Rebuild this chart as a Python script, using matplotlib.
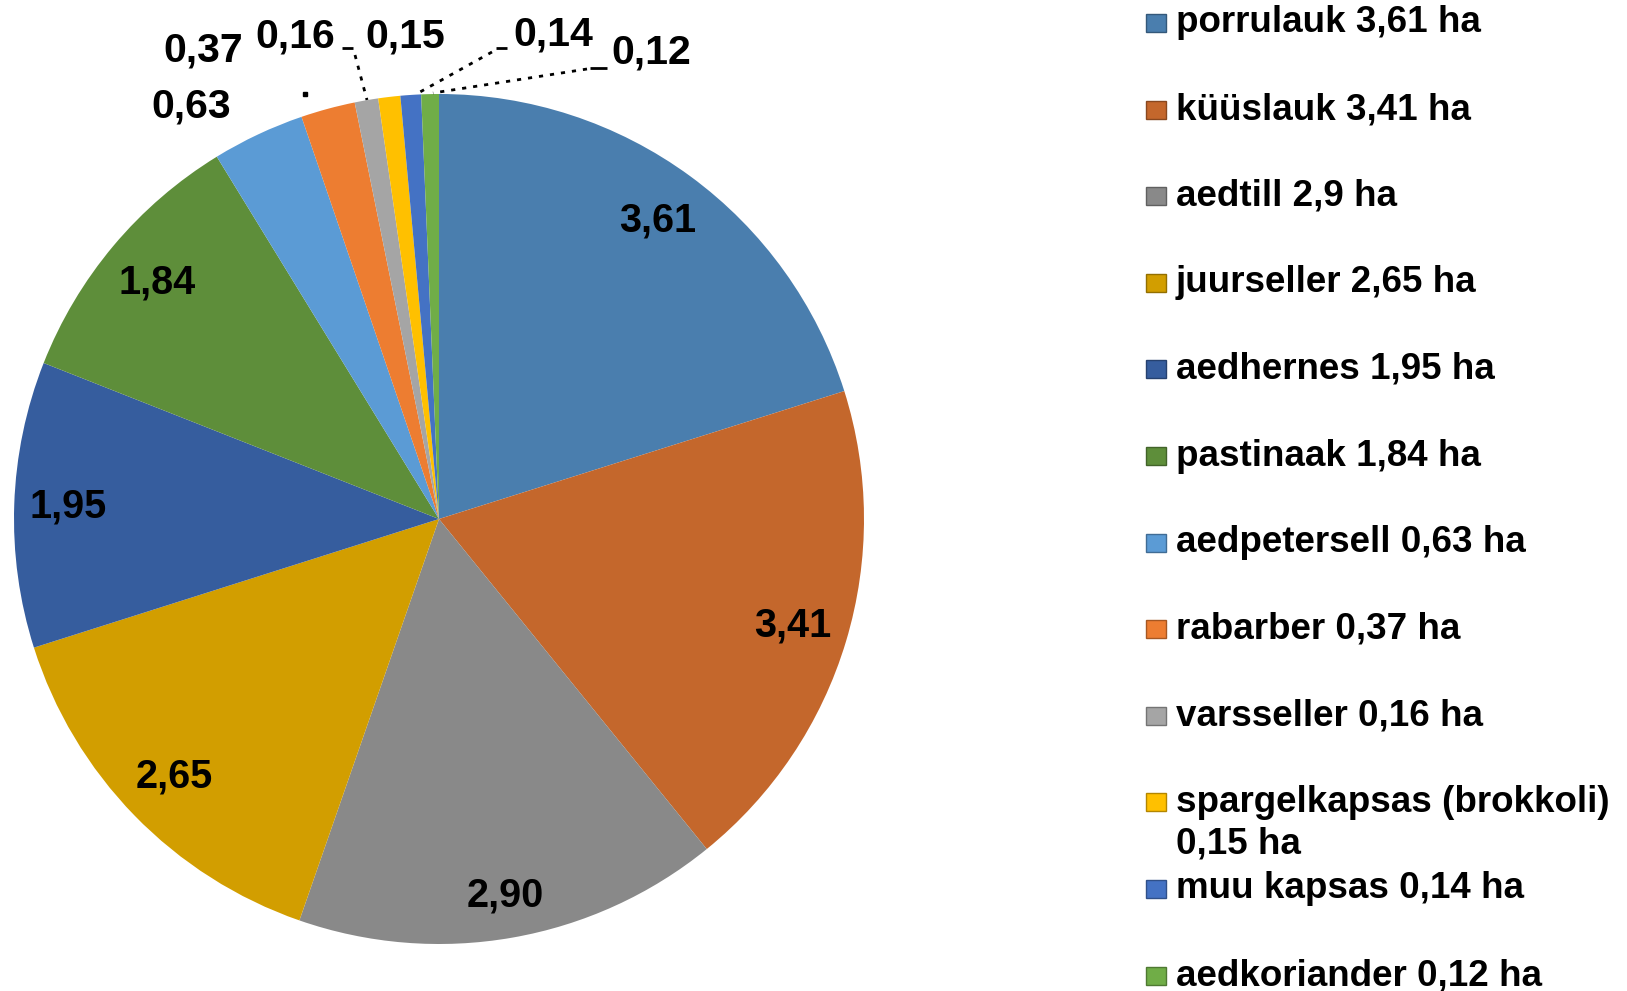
import textwrap
import numpy as np
import matplotlib.pyplot as plt
from matplotlib.patches import Rectangle
from matplotlib.colors import to_rgb

plt.rcParams['font.family'] = ['Liberation Sans', 'DejaVu Sans']
plt.rcParams['font.weight'] = 'bold'

# data
crops = ['porrulauk', 'küüslauk', 'aedtill', 'juurseller', 'aedhernes', 'pastinaak',
         'aedpetersell', 'rabarber', 'varsseller', 'spargelkapsas (brokkoli)',
         'muu kapsas', 'aedkoriander']
area_ha = [3.61, 3.41, 2.90, 2.65, 1.95, 1.84, 0.63, 0.37, 0.16, 0.15, 0.14, 0.12]
colors = ['#4A7EAE', '#C4672C', '#898989', '#D29E00', '#365D9E', '#5E8E3A',
          '#5B9BD5', '#ED7D31', '#A5A5A5', '#FFC000', '#4472C4', '#70AD47']

W, H = 1627, 991
CX, CY, R = 439, 519, 425   # pie centre / radius in image pixels


def iy(y):
    """image y (top-down) -> axes y (bottom-up)"""
    return H - y


def comma(v, fmt):
    return format(v, fmt).replace('.', ',')


fig = plt.figure(figsize=(W / 100, H / 100), dpi=100)
ax = fig.add_axes([0, 0, 1, 1])

wedges, _ = ax.pie(area_ha, colors=colors, startangle=90, counterclock=False,
                   center=(CX, iy(CY)), radius=R,
                   wedgeprops=dict(linewidth=0, antialiased=True))

ax.set_xlim(0, W)
ax.set_ylim(0, H)
ax.set_aspect('equal')
ax.axis('off')

# labels inside the big slices
inner_r = [0.87, 0.87, 0.90, 0.87, 0.873, 0.865]
for i, (w, r) in enumerate(zip(wedges[:6], inner_r)):
    mid = np.deg2rad((w.theta1 + w.theta2) / 2)
    ax.text(CX + r * R * np.cos(mid), iy(CY) + r * R * np.sin(mid),
            comma(area_ha[i], '.2f'), ha='center', va='center',
            fontsize=28.5, fontweight='bold', color='black')

# labels outside for the small slices (positions in image px)
outer_pos = [(191, 106), (203, 51), (295, 36), (405, 36), (553, 35), (651, 53)]
for i, (x, y) in zip(range(6, 12), outer_pos):
    ax.text(x, iy(y), comma(area_ha[i], '.2f'), ha='center', va='center',
            fontsize=29.5, fontweight='bold', color='black')

# leader lines
dots = dict(color='black', lw=2, linestyle=(0, (1.5, 2.5)), solid_capstyle='butt')
solid = dict(color='black', lw=2, solid_capstyle='butt')
leaders = [
    [(342, 48), (353, 48)], [(355, 55), (367, 100)],   # 0,16
    [(496, 48), (507, 48)], [(492, 52), (420, 92)],    # 0,14
    [(590, 68), (607, 68)], [(587, 69), (433, 93)],    # 0,12
]
for k, seg in enumerate(leaders):
    xs = [p[0] for p in seg]
    ys = [iy(p[1]) for p in seg]
    ax.plot(xs, ys, **(solid if k % 2 == 0 else dots))
ax.plot([305], [iy(94)], marker='s', ms=2.2, color='black', lw=0)

# legend, drawn by hand to copy Excel's spacing
lx, tx = 1146, 1176
y0, step = 23, 86.6
for i, (name, val, c) in enumerate(zip(crops, area_ha, colors)):
    y = y0 + i * step
    edge = tuple(np.array(to_rgb(c)) * 0.7)
    ax.add_patch(Rectangle((lx, iy(y + 9)), 20, 18, facecolor=c,
                           edgecolor=edge, linewidth=1))
    text = textwrap.fill(f"{name} {comma(val, 'g')} ha", width=25)
    for k, line in enumerate(text.split('\n')):
        ax.text(tx, iy(y + k * 42), line, ha='left', va='center',
                fontsize=26.5, fontweight='bold', color='black')

fig.savefig('out.png', dpi=100)
